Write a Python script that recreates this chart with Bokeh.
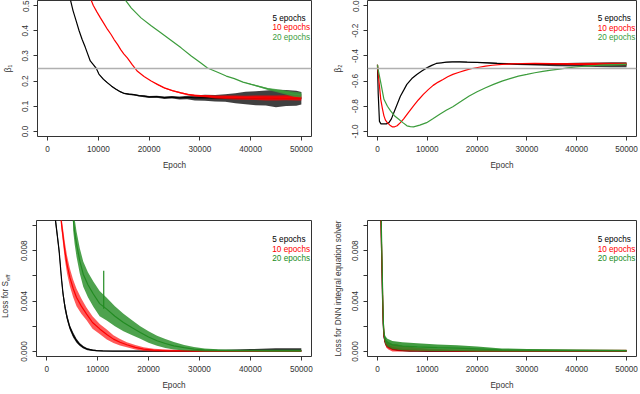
import math
from bokeh.plotting import figure
from bokeh.layouts import column, row
from bokeh.models import Range1d, FixedTicker, Span, ColumnDataSource
from bokeh.core.properties import value
from bokeh.embed import file_html
from bokeh.resources import INLINE

FONT = "Liberation Sans"
FS = "8.2px"

# ---------------- data ----------------
epoch_ticks = [0, 10000, 20000, 30000, 40000, 50000]
epoch_labels = ["0", "10000", "20000", "30000", "40000", "50000"]
series_names = ["5 epochs", "10 epochs", "20 epochs"]

# panel 1: beta1
b1_ticks = [0.0, 0.1, 0.2, 0.3, 0.4, 0.5]
b1_labels = ["0.0", "0.1", "0.2", "0.3", "0.4", "0.5"]
b1_true = 0.25
b1_5_x = [4400, 5000, 5600, 6200, 6800, 7400, 8400, 9000, 9600, 10100,
          11000, 11800, 12600, 13400, 14300, 15100, 16000, 17000, 18000, 19000,
          20000, 21500, 23000, 24500, 26000, 27500, 29000, 31000, 33000, 35000,
          37000, 39000, 41000, 43000, 45000, 47000, 49000, 50000]
b1_5_y = [0.53, 0.48, 0.44, 0.40, 0.365, 0.335, 0.28, 0.265, 0.25, 0.228,
          0.207, 0.193, 0.18, 0.169, 0.158, 0.151, 0.148, 0.146, 0.142, 0.14,
          0.137, 0.138, 0.134, 0.136, 0.133, 0.135, 0.133, 0.134, 0.132, 0.133,
          0.132, 0.133, 0.132, 0.133, 0.131, 0.133, 0.132, 0.132]
b1_5_noise = [0, 0, 0, 0, 0, 0, 0, 0, 0, 0,
              0.002, 0.002, 0.002, 0.002, 0.002, 0.002, 0.003, 0.003, 0.003, 0.004,
              0.004, 0.004, 0.005, 0.005, 0.006, 0.007, 0.01, 0.012, 0.013, 0.015,
              0.02, 0.025, 0.028, 0.03, 0.035, 0.032, 0.03, 0.025]
b1_10_x = [8400, 9000, 9700, 10400, 11100, 11800, 12500, 13100, 13800, 14400,
           15000, 15700, 16700, 17700, 19000, 20400, 21700, 23000, 24600, 26300,
           27600, 28900, 30200, 31500, 33000, 35000, 37000, 39000, 41000, 43000,
           45000, 47000, 49000, 50000]
b1_10_y = [0.53, 0.50, 0.475, 0.451, 0.428, 0.405, 0.385, 0.365, 0.345, 0.325,
           0.308, 0.292, 0.264, 0.239, 0.218, 0.2, 0.186, 0.173, 0.162, 0.153,
           0.147, 0.143, 0.141, 0.14, 0.137, 0.136, 0.135, 0.134, 0.134, 0.133,
           0.133, 0.134, 0.133, 0.133]
b1_10_noise = [0, 0, 0, 0, 0, 0, 0, 0, 0, 0,
               0, 0, 0, 0, 0, 0, 0.002, 0.002, 0.002, 0.003,
               0.003, 0.004, 0.004, 0.005, 0.006, 0.007, 0.008, 0.008, 0.009, 0.01,
               0.01, 0.01, 0.01, 0.01]
b1_20_x = [15000, 16500, 18400, 20400, 22300, 24300, 26300, 28300, 30200, 31500,
           33500, 35200, 36800, 38500, 40100, 41800, 43400, 45000, 46700, 48500, 50000]
b1_20_y = [0.53, 0.49, 0.451, 0.42, 0.392, 0.362, 0.332, 0.3, 0.272, 0.252,
           0.235, 0.22, 0.21, 0.196, 0.187, 0.178, 0.169, 0.163, 0.156, 0.148, 0.145]
b1_20_noise = [0, 0, 0, 0, 0, 0, 0, 0, 0, 0,
               0, 0, 0, 0, 0.002, 0.003, 0.004, 0.006, 0.008, 0.01, 0.01]

# panel 2: beta2
b2_ticks = [-1.0, -0.8, -0.6, -0.4, -0.2, 0.0]
b2_labels = ["-1.0", "-0.8", "-0.6", "-0.4", "-0.2", "0.0"]
b2_true = -0.5
b2_5_x = [0, 150, 400, 700, 1200, 1800, 2300, 2800, 3300, 3900,
          4600, 5300, 5900, 6900, 7900, 8900, 9900, 10900, 11800, 12800,
          13800, 15000, 16500, 18000, 20000, 22000, 24000, 26000, 28000, 30000,
          33000, 36000, 40000, 44000, 47000, 50000]
b2_5_y = [-0.47, -0.7, -0.92, -0.94, -0.94, -0.94, -0.93, -0.9, -0.85, -0.79,
          -0.72, -0.67, -0.626, -0.58, -0.547, -0.52, -0.495, -0.475, -0.46, -0.455,
          -0.45, -0.448, -0.447, -0.45, -0.452, -0.455, -0.46, -0.462, -0.465, -0.467,
          -0.468, -0.47, -0.47, -0.47, -0.47, -0.47]
b2_5_noise = [0, 0, 0, 0, 0, 0, 0, 0, 0, 0,
              0, 0, 0, 0, 0, 0, 0, 0, 0, 0,
              0.002, 0.002, 0.003, 0.003, 0.004, 0.004, 0.005, 0.006, 0.007, 0.008,
              0.01, 0.012, 0.015, 0.018, 0.02, 0.02]
b2_10_x = [0, 300, 660, 1000, 1300, 1600, 1970, 2500, 2960, 3450,
           3950, 4600, 5260, 6200, 7240, 8200, 9210, 10200, 11180, 12200,
           13160, 14100, 15130, 16400, 17760, 19000, 20390, 21700, 23030, 25000,
           26970, 29000, 31580, 35000, 40000, 45000, 50000]
b2_10_y = [-0.47, -0.6, -0.745, -0.82, -0.876, -0.91, -0.93, -0.95, -0.963, -0.963,
           -0.955, -0.93, -0.9, -0.85, -0.797, -0.75, -0.705, -0.668, -0.634, -0.608,
           -0.587, -0.566, -0.547, -0.53, -0.513, -0.5, -0.49, -0.481, -0.474, -0.468,
           -0.463, -0.462, -0.46, -0.462, -0.465, -0.465, -0.465]
b2_10_noise = [0, 0, 0, 0, 0, 0, 0, 0, 0, 0,
               0, 0, 0, 0, 0, 0, 0, 0, 0, 0,
               0, 0, 0, 0, 0, 0, 0, 0, 0, 0,
               0.002, 0.003, 0.004, 0.006, 0.008, 0.01, 0.01]
b2_20_x = [0, 200, 660, 1300, 2000, 2630, 3400, 4280, 5100, 5920,
           6600, 7240, 8500, 9870, 11200, 12500, 13800, 15130, 16800, 18420,
           20000, 21710, 23300, 25000, 26600, 28290, 30000, 31580, 33200, 34870,
           36500, 38160, 39800, 41450, 43000, 44740, 47000, 49670, 50000]
b2_20_y = [-0.47, -0.52, -0.613, -0.745, -0.8, -0.837, -0.875, -0.903, -0.93, -0.955,
           -0.962, -0.963, -0.95, -0.93, -0.897, -0.863, -0.832, -0.803, -0.76, -0.718,
           -0.685, -0.653, -0.626, -0.6, -0.58, -0.56, -0.547, -0.534, -0.523, -0.513,
           -0.505, -0.495, -0.488, -0.482, -0.478, -0.474, -0.471, -0.468, -0.468]
b2_20_noise = [0, 0, 0, 0, 0, 0, 0, 0, 0, 0,
               0, 0, 0, 0, 0, 0, 0, 0, 0, 0,
               0, 0, 0, 0, 0, 0, 0, 0, 0, 0,
               0, 0, 0, 0.003, 0.004, 0.005, 0.006, 0.006, 0.006]

# panel 3: loss for S_eff
loss_ticks = [0.0, 0.004, 0.008]
loss_minor = [0.002, 0.006, 0.010]
loss_labels = ["0.000", "0.004", "0.008"]
s_5_x = [1700, 2000, 2440, 2900, 3200, 3560, 4000, 4550, 5200, 5860,
         6500, 7180, 8000, 9000, 9820, 11000, 13000, 16000, 20000, 25000,
         30000, 35000, 40000, 45000, 50000]
s_5_y = [0.0105, 0.0095, 0.008, 0.0058, 0.0046, 0.0036, 0.0027, 0.0019, 0.0013, 0.00085,
         0.00055, 0.00033, 0.00018, 0.0001, 0.00006, 0.00004, 0.00003, 0.00002, 0.00002, 0.00002,
         0.00003, 0.00003, 0.00004, 0.00005, 0.00005]
s_5_noise = [0.0003, 0.0003, 0.0003, 0.0003, 0.0003, 0.0003, 0.00025, 0.0002, 0.0002, 0.00015,
             0.00012, 0.0001, 0.00008, 0.00006, 0.00005, 0.00004, 0.00003, 0.00003, 0.00003, 0.00004,
             0.00008, 0.0001, 0.00015, 0.0002, 0.0002]
s_10_x = [2800, 3200, 3560, 4000, 4550, 5200, 5860, 6800, 7840, 9000,
          10470, 11800, 13110, 14400, 15740, 17400, 19030, 21000, 23650, 27000,
          32000, 40000, 50000]
s_10_y = [0.0105, 0.0092, 0.008, 0.0069, 0.00588, 0.005, 0.00429, 0.0036, 0.00297, 0.0023,
          0.00177, 0.00135, 0.00098, 0.00073, 0.00053, 0.00033, 0.00019, 0.0001, 0.00005, 0.00004,
          0.00003, 0.00003, 0.00003]
s_10_noise = [0.0005, 0.0006, 0.0007, 0.0007, 0.0007, 0.0007, 0.0007, 0.0006, 0.0005, 0.0005,
              0.0004, 0.0004, 0.0003, 0.00025, 0.0002, 0.00018, 0.00015, 0.00012, 0.0001, 0.00008,
              0.00006, 0.00006, 0.00006]
s_20_x = [5200, 5500, 5860, 6500, 7180, 8100, 9160, 10400, 11790, 13400,
          15080, 16700, 18380, 20000, 21670, 23300, 24970, 27000, 28920, 31000,
          33530, 38000, 44000, 50000]
s_20_y = [0.0105, 0.0095, 0.00853, 0.0072, 0.00614, 0.0053, 0.00456, 0.0038, 0.00336, 0.0028,
          0.0023, 0.0019, 0.00151, 0.00115, 0.00085, 0.00063, 0.00045, 0.0003, 0.00019, 0.00012,
          0.00008, 0.00006, 0.00005, 0.00005]
s_20_noise = [0.0009, 0.001, 0.001, 0.001, 0.001, 0.001, 0.001, 0.001, 0.0009, 0.0008,
              0.0007, 0.0006, 0.0005, 0.00045, 0.0004, 0.00035, 0.0003, 0.00022, 0.00016, 0.00012,
              0.0001, 0.00008, 0.00008, 0.00008]
s_20_spike_x = [11200]
s_20_spike_lo = [0.0034]
s_20_spike_hi = [0.0064]

# panel 4: loss for DNN integral equation solver
d_5_x = [700, 850, 1000, 1150, 1300, 1500, 1800, 2200, 3000, 4000,
         5000, 6500, 8000, 10000, 15000, 20000, 30000, 40000, 50000]
d_5_y = [0.0105, 0.0075, 0.0045, 0.0022, 0.0012, 0.0008, 0.00055, 0.0004, 0.00022, 0.00012,
         0.00008, 0.00005, 0.00004, 0.00003, 0.00003, 0.00003, 0.00003, 0.00003, 0.00003]
d_5_noise = [0.0002, 0.0002, 0.0002, 0.0002, 0.0002, 0.0002, 0.0002, 0.00015, 0.0001, 0.00008,
             0.00006, 0.00005, 0.00004, 0.00003, 0.00003, 0.00003, 0.00004, 0.00005, 0.00005]
d_10_x = [700, 850, 1000, 1150, 1300, 1500, 1800, 2200, 3000, 4000,
          5000, 6500, 8000, 10000, 15000, 20000, 30000, 40000, 50000]
d_10_y = [0.0105, 0.0078, 0.005, 0.0025, 0.0013, 0.0009, 0.0006, 0.00045, 0.0003, 0.00022,
          0.00016, 0.00012, 0.0001, 0.00008, 0.00006, 0.00005, 0.00005, 0.00005, 0.00005]
d_10_noise = [0.0003, 0.0003, 0.0003, 0.0003, 0.0003, 0.0003, 0.0003, 0.0003, 0.0003, 0.00035,
              0.0003, 0.00025, 0.0002, 0.00015, 0.0001, 0.0001, 0.00008, 0.00008, 0.00008]
d_20_x = [750, 900, 1050, 1200, 1350, 1600, 2000, 3000, 5000, 8000,
          12000, 16000, 20000, 25000, 30000, 40000, 50000]
d_20_y = [0.0105, 0.0075, 0.0045, 0.0022, 0.0013, 0.0009, 0.0007, 0.00052, 0.00042, 0.00036,
          0.0003, 0.00026, 0.0002, 0.00012, 0.0001, 0.00008, 0.00007]
d_20_noise = [0.0002, 0.0002, 0.0003, 0.0003, 0.0003, 0.0003, 0.0003, 0.00032, 0.00032, 0.0003,
              0.00026, 0.00023, 0.0002, 0.00012, 0.0001, 0.00008, 0.00007]

# ---------------- styling ----------------
AX = "#333333"
TOP_COLORS = ["#000000", "#ff0000", "#3c9c3c"]
BOT_COLORS = ["#000000", "#ff0000", "#228b22"]
LOSS_RANGE = (-0.0004, 0.0104)


def make_fig(width, height, yr, borders):
    l, r, t, b = borders
    return figure(width=width, height=height, x_range=Range1d(-2000, 52000),
                  y_range=Range1d(*yr), output_backend="svg", toolbar_location=None,
                  min_border_left=l, min_border_right=r, min_border_top=t,
                  min_border_bottom=b)


def style_axes(p, yticks, ylabels, ylabel, minor=None):
    p.xgrid.visible = False
    p.ygrid.visible = False
    p.outline_line_color = AX
    p.outline_line_width = 1
    p.background_fill_color = "white"
    p.border_fill_color = "white"
    p.xaxis.ticker = FixedTicker(ticks=epoch_ticks)
    p.xaxis.major_label_overrides = dict(zip(epoch_ticks, epoch_labels))
    if minor is not None:
        p.yaxis.ticker = FixedTicker(ticks=yticks, minor_ticks=minor)
    else:
        p.yaxis.ticker = FixedTicker(ticks=yticks)
    p.yaxis.major_label_overrides = dict(zip(yticks, ylabels))
    p.yaxis.major_label_orientation = "vertical"
    for ax in (p.xaxis[0], p.yaxis[0]):
        ax.axis_line_color = None
        ax.major_tick_line_color = AX
        ax.minor_tick_line_color = AX
        ax.major_tick_out = 4
        ax.major_tick_in = 0
        ax.minor_tick_in = 0
        ax.major_label_text_font = FONT
        ax.major_label_text_font_size = FS
        ax.major_label_text_color = AX
        ax.axis_label_text_font = FONT
        ax.axis_label_text_font_size = FS
        ax.axis_label_text_font_style = "normal"
        ax.axis_label_text_color = AX
    p.yaxis.minor_tick_out = 4 if minor is not None else 0
    p.xaxis.minor_tick_out = 0
    p.xaxis.axis_label = "Epoch"
    p.xaxis.major_label_standoff = 5
    p.xaxis.axis_label_standoff = 6
    p.yaxis.major_label_standoff = 5
    p.yaxis.axis_label_standoff = 7
    if ylabel:
        p.yaxis.axis_label = ylabel


def add_series(p, xs, ys, noise, color, alpha, clip0):
    lo = [max(0.0, y - n) if clip0 else y - n for y, n in zip(ys, noise)]
    hi = [y + n for y, n in zip(ys, noise)]
    p.varea(x=xs, y1=lo, y2=hi, fill_color=color, fill_alpha=alpha)
    p.line(xs, ys, line_color=color, line_width=1.2)


def add_legend(p, xpos, ys, colors):
    src = ColumnDataSource(dict(x=[xpos] * 3, y=ys, t=series_names, c=colors))
    p.text(x="x", y="y", text="t", text_color="c", source=src,
           text_font=value(FONT), text_font_size=value(FS),
           text_align="left", text_baseline="middle")


# Panel 1
p1 = make_fig(319, 196, (-0.02, 0.52), (36, 8, 0, 60))
style_axes(p1, b1_ticks, b1_labels, "β₁")
p1.add_layout(Span(location=b1_true, dimension="width", line_color="#b0b0b0", line_width=1.5))
add_series(p1, b1_5_x, b1_5_y, b1_5_noise, TOP_COLORS[0], 0.75, False)
add_series(p1, b1_10_x, b1_10_y, b1_10_noise, TOP_COLORS[1], 0.8, False)
add_series(p1, b1_20_x, b1_20_y, b1_20_noise, TOP_COLORS[2], 0.8, False)
add_legend(p1, 44300, [0.448, 0.413, 0.373], TOP_COLORS)

# Panel 2
p2 = make_fig(319, 196, (-1.04, 0.04), (48, 2, 0, 60))
style_axes(p2, b2_ticks, b2_labels, "β₂")
p2.add_layout(Span(location=b2_true, dimension="width", line_color="#b0b0b0", line_width=1.5))
add_series(p2, b2_5_x, b2_5_y, b2_5_noise, TOP_COLORS[0], 0.75, False)
add_series(p2, b2_10_x, b2_10_y, b2_10_noise, TOP_COLORS[1], 0.8, False)
add_series(p2, b2_20_x, b2_20_y, b2_20_noise, TOP_COLORS[2], 0.8, False)
add_legend(p2, 44200, [-0.105, -0.179, -0.253], TOP_COLORS)

# Label strip for panel 3's y-axis title (with subscript)
plab = figure(width=14, height=196, x_range=Range1d(0, 1), y_range=Range1d(*LOSS_RANGE),
              output_backend="svg", toolbar_location=None,
              x_axis_location=None, y_axis_location=None,
              min_border_left=0, min_border_right=0, min_border_top=24, min_border_bottom=35)
plab.xgrid.visible = False
plab.ygrid.visible = False
plab.outline_line_color = None
plab.text(x=[0.36], y=[0.00559], text=["Loss for S"], angle=math.pi / 2,
          text_font=value(FONT), text_font_size=value(FS), text_color=AX,
          text_align="right", text_baseline="middle")
plab.text(x=[0.36], y=[0.00559], text=["eff"], angle=math.pi / 2, x_offset=2,
          text_font=value(FONT), text_font_size=value("6px"), text_color=AX,
          text_align="left", text_baseline="middle")

# Panel 3
p3 = make_fig(305, 196, LOSS_RANGE, (22, 8, 24, 35))
style_axes(p3, loss_ticks, loss_labels, "", minor=loss_minor)
add_series(p3, s_5_x, s_5_y, s_5_noise, BOT_COLORS[0], 0.8, True)
add_series(p3, s_10_x, s_10_y, s_10_noise, BOT_COLORS[1], 0.65, True)
add_series(p3, s_20_x, s_20_y, s_20_noise, BOT_COLORS[2], 0.8, True)
p3.segment(x0=s_20_spike_x, y0=s_20_spike_lo, x1=s_20_spike_x, y1=s_20_spike_hi,
           line_color=BOT_COLORS[2], line_width=1.2)
add_legend(p3, 44300, [0.00887, 0.00813, 0.00739], BOT_COLORS)

# Panel 4
p4 = make_fig(319, 196, LOSS_RANGE, (48, 2, 24, 35))
style_axes(p4, loss_ticks, loss_labels, "Loss for DNN integral equation solver", minor=loss_minor)
add_series(p4, d_5_x, d_5_y, d_5_noise, BOT_COLORS[0], 0.8, True)
add_series(p4, d_10_x, d_10_y, d_10_noise, BOT_COLORS[1], 0.7, True)
add_series(p4, d_20_x, d_20_y, d_20_noise, BOT_COLORS[2], 0.85, True)
add_legend(p4, 44200, [0.00887, 0.00813, 0.00739], BOT_COLORS)

layout = column(row(p1, p2, spacing=0), row(plab, p3, p4, spacing=0), spacing=0)
open("out.html", "w").write(file_html(layout, INLINE))
